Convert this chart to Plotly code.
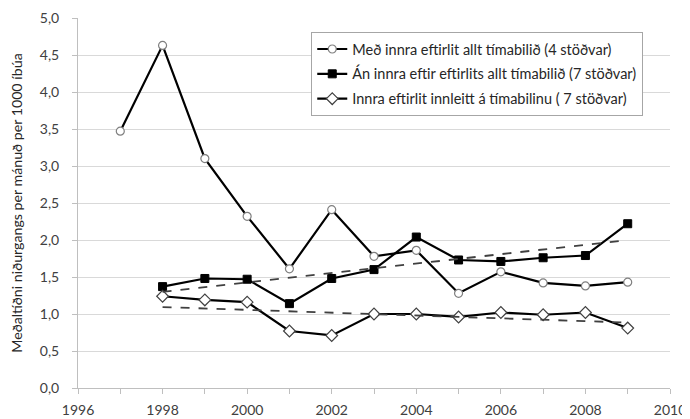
import numpy as np
import plotly.graph_objects as go

years1 = [1997, 1998, 1999, 2000, 2001, 2002, 2003, 2004, 2005, 2006, 2007, 2008, 2009]
med_innra = [3.47, 4.63, 3.10, 2.32, 1.61, 2.41, 1.78, 1.86, 1.28, 1.57, 1.42, 1.38, 1.43]

years2 = [1998, 1999, 2000, 2001, 2002, 2003, 2004, 2005, 2006, 2007, 2008, 2009]
an_innra = [1.37, 1.48, 1.47, 1.14, 1.48, 1.60, 2.04, 1.73, 1.71, 1.76, 1.79, 2.22]
innleitt = [1.24, 1.19, 1.16, 0.77, 0.71, 1.00, 1.00, 0.96, 1.02, 0.99, 1.02, 0.81]

names = [
    "Með innra eftirlit allt tímabilið (4 stöðvar)",
    "Án innra eftir eftirlits allt tímabilið (7 stöðvar)",
    "Innra eftirlit innleitt á tímabilinu ( 7 stöðvar)",
]
y_title = "Meðaltíðni niðurgangs per mánuð per 1000 íbúa"

FONT = "Lato"

fig = go.Figure()

fig.add_trace(go.Scatter(
    x=years1, y=med_innra, mode="lines+markers", name=names[0], legendgroup="a",
    line=dict(color="black", width=2.2),
    marker=dict(symbol="circle", size=8, color="white", line=dict(color="#7f7f7f", width=1.2)),
))
fig.add_trace(go.Scatter(
    x=years2, y=an_innra, mode="lines+markers", name=names[1], legendgroup="b",
    line=dict(color="black", width=2.2),
    marker=dict(symbol="square", size=8, color="black", line=dict(color="black", width=1)),
))
fig.add_trace(go.Scatter(
    x=years2, y=innleitt, mode="lines+markers", name=names[2], legendgroup="c",
    line=dict(color="black", width=2.2),
    marker=dict(symbol="diamond", size=9, color="white", line=dict(color="#404040", width=1.2)),
))

# linear trendlines (least squares fit of the data)
for ys in (an_innra, innleitt):
    k, m = np.polyfit(years2, ys, 1)
    xs = [years2[0], years2[-1]]
    fig.add_trace(go.Scatter(
        x=xs, y=[k * xx + m for xx in xs], mode="lines", showlegend=False,
        line=dict(color="#404040", width=1.8, dash="dash"), hoverinfo="skip",
    ))

# the page body adds an 8px offset; margins compensate for it
fig.update_layout(
    width=690, height=419,
    margin=dict(l=70, r=28, t=10, b=39),
    paper_bgcolor="white", plot_bgcolor="white",
    separators=", ",
    font=dict(family=FONT, size=14, color="#404040"),
    showlegend=True,
    legend=dict(
        x=0.394, y=0.962, xanchor="left", yanchor="top",
        bgcolor="white", bordercolor="#a6a6a6", borderwidth=1,
        font=dict(family=FONT, size=14.5, color="#262626"),
        traceorder="grouped", tracegroupgap=3, itemwidth=30,
        entrywidth=320, entrywidthmode="pixels",
    ),
)

fig.update_xaxes(
    range=[1996, 2010], dtick=2, tick0=1996, automargin=False,
    showgrid=False, zeroline=False,
    showline=True, linecolor="#bfbfbf", linewidth=1,
    ticks="outside", ticklen=5, tickcolor="#bfbfbf", ticklabelstandoff=4,
    minor=dict(dtick=1, ticks="outside", ticklen=5, tickcolor="#bfbfbf", showgrid=False),
    tickfont=dict(family=FONT, size=14, color="#404040"),
)
fig.update_yaxes(
    range=[0, 5], dtick=0.5, tickformat=".1f", automargin=False,
    showgrid=True, gridcolor="#d9d9d9", gridwidth=1, zeroline=False,
    showline=True, linecolor="#bfbfbf", linewidth=1,
    ticks="outside", ticklen=5, tickcolor="#bfbfbf", ticklabelstandoff=10,
    tickfont=dict(family=FONT, size=14, color="#404040"),
    title=dict(text=y_title, font=dict(family=FONT, size=14.2, color="#262626"), standoff=19),
)

fig.write_html("out.html")
